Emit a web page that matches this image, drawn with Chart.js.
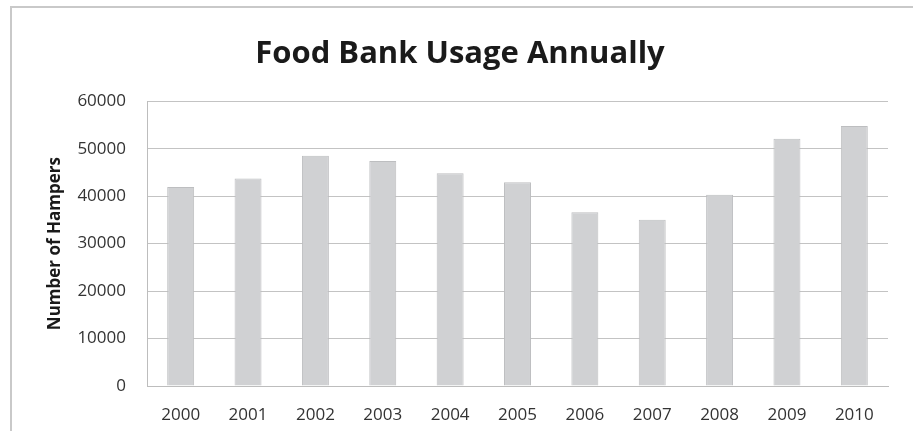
<!DOCTYPE html>
<html>
<head>
<meta charset="utf-8">
<script src="https://cdn.jsdelivr.net/npm/chart.js@4"></script>
<style>
html,body{margin:0;padding:0;background:#fff;}
#wrap{width:913px;height:431px;position:relative;}
</style>
</head>
<body>
<div id="wrap"><canvas id="c" width="913" height="431"></canvas></div>
<script>
const years = ['2000','2001','2002','2003','2004','2005','2006','2007','2008','2009','2010'];
const hampers = [41900, 43700, 48500, 47400, 44800, 42900, 36600, 35000, 40300, 52100, 54800];
const yTicks = [0, 10000, 20000, 30000, 40000, 50000, 60000];
const chartTitle = 'Food Bank Usage Annually';
const yTitle = 'Number of Hampers';

const frame = {
  id: 'frame',
  beforeDraw(chart) {
    const ctx = chart.ctx;
    ctx.save();
    ctx.strokeStyle = '#c9c9c9';
    ctx.lineWidth = 2;
    ctx.beginPath();
    ctx.moveTo(11, 431);
    ctx.lineTo(11, 7);
    ctx.lineTo(913, 7);
    ctx.stroke();
    ctx.restore();
  }
};

new Chart(document.getElementById('c'), {
  type: 'bar',
  data: {
    labels: years,
    datasets: [{
      data: hampers,
      backgroundColor: '#d0d1d3',
      borderColor: '#bdbec0',
      borderWidth: 1,
      barPercentage: 0.4,
      categoryPercentage: 1.0
    }]
  },
  options: {
    responsive: false,
    animation: false,
    layout: { padding: { left: 32, right: 25, top: 0, bottom: 0 } },
    plugins: {
      legend: { display: false },
      tooltip: { enabled: false },
      title: {
        display: true,
        text: chartTitle,
        color: '#1a1a1a',
        font: { family: 'Open Sans', size: 31, weight: 'bold', lineHeight: 1.2 },
        padding: { top: 36, bottom: 28 }
      }
    },
    scales: {
      x: {
        afterFit: s => { s.height = 45; },
        grid: { display: false, drawTicks: false },
        border: { display: true, color: '#bdbdbd', width: 1 },
        ticks: { color: '#333', padding: 19, font: { family: 'Open Sans', size: 17 } }
      },
      y: {
        min: 0, max: 60000,
        afterFit: s => { s.width = 115; },
        afterBuildTicks: s => { s.ticks = yTicks.map(v => ({ value: v })); },
        grid: { color: '#c3c3c3', lineWidth: 1, drawTicks: false },
        border: { display: true, color: '#bdbdbd', width: 1 },
        ticks: { color: '#333', padding: 21, font: { family: 'Open Sans', size: 17 }, callback: v => String(v) },
        title: {
          display: true,
          text: yTitle,
          color: '#1a1a1a',
          font: { family: 'Open Sans', size: 17, weight: 'bold', lineHeight: 1.2 },
          padding: { top: 13, bottom: 0 }
        }
      }
    }
  },
  plugins: [frame]
});
</script>
</body>
</html>
